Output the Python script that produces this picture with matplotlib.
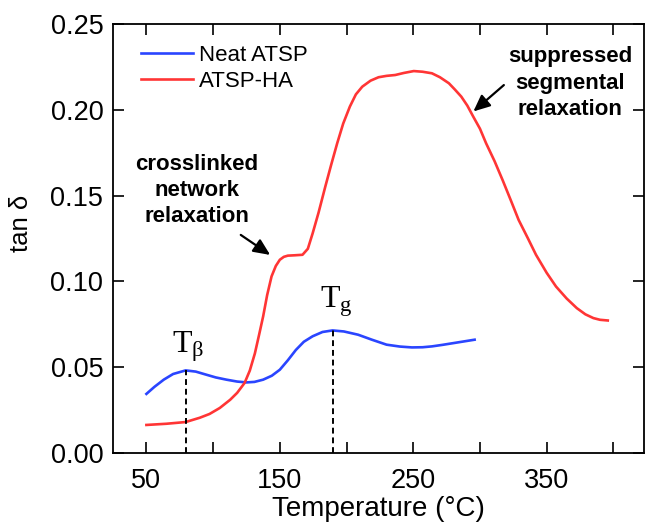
import matplotlib.pyplot as plt

plt.rcParams['font.family'] = ['Liberation Sans', 'DejaVu Sans']
plt.rcParams['mathtext.fontset'] = 'custom'
plt.rcParams['mathtext.rm'] = 'Liberation Serif'
plt.rcParams['mathtext.it'] = 'Liberation Serif'

# Neat ATSP
temp_neat = [50, 56, 63, 70, 79.4, 87, 94, 102, 110, 118, 125, 131, 137.5, 144, 150,
             156, 162, 168, 174.6, 182, 189.5, 198, 208.7, 219, 230, 240, 249, 257,
             264, 272, 280, 288, 296]
tan_neat = [0.0344, 0.0385, 0.0427, 0.0460, 0.0481, 0.0474, 0.0458, 0.0440, 0.0427,
            0.0416, 0.0411, 0.0414, 0.0427, 0.0450, 0.0485, 0.0540, 0.0600, 0.0648,
            0.0680, 0.0705, 0.0714, 0.0708, 0.0689, 0.0660, 0.0631, 0.0620, 0.0615,
            0.0616, 0.0621, 0.0630, 0.0640, 0.0650, 0.0660]

# ATSP-HA
temp_ha = [50, 65, 79.4, 90, 97.3, 105, 112.8, 118, 123.6, 127.5, 131.3, 134.5, 137.5,
           140.5, 143.8, 147, 150, 153, 156, 161, 167, 171, 174.6, 179, 184, 188.5,
           193, 197.5, 202.5, 207, 211.8, 218, 224, 230, 236.5, 243, 250.4, 257, 264,
           270, 276.7, 281, 286, 290.5, 295, 300, 304.6, 311, 317, 323, 329, 336, 342,
           350, 357, 365, 372.6, 379, 385, 390, 395.8]
tan_ha = [0.0163, 0.0170, 0.0180, 0.0205, 0.0227, 0.0262, 0.0310, 0.0350, 0.0408,
          0.0480, 0.0580, 0.0690, 0.0796, 0.0920, 0.1029, 0.1090, 0.1126, 0.1143,
          0.1150, 0.1152, 0.1155, 0.1190, 0.1280, 0.1400, 0.1550, 0.1680, 0.1805,
          0.1920, 0.2019, 0.2090, 0.2135, 0.2170, 0.2190, 0.2198, 0.2203, 0.2215,
          0.2226, 0.2222, 0.2213, 0.2190, 0.2155, 0.2120, 0.2077, 0.2025, 0.1960,
          0.1890, 0.1805, 0.1700, 0.1590, 0.1475, 0.1358, 0.1250, 0.1155, 0.1050,
          0.0970, 0.0900, 0.0844, 0.0808, 0.0786, 0.0776, 0.0772]

t_beta, tan_beta = 79.4, 0.0481
t_g, tan_g = 190, 0.0714

fig = plt.figure(figsize=(6.46, 5.23), dpi=100)
ax = fig.add_axes([0.175, 0.134, 0.822, 0.820])

ax.plot(temp_neat, tan_neat, color='#2a45ff', lw=1.9, label='Neat ATSP')
ax.plot(temp_ha, tan_ha, color='#ff3535', lw=1.9, label='ATSP-HA')

# transition markers
ax.plot([t_beta, t_beta], [0, tan_beta], 'k--', lw=1.4, dashes=(3, 2))
ax.plot([t_g, t_g], [0, tan_g], 'k--', lw=1.4, dashes=(3, 2))
ax.text(69, 0.0584, r'$\mathrm{T}_{\beta}$', fontsize=23, ha='left', va='baseline')
ax.text(180, 0.0845, r'$\mathrm{T}_{\mathrm{g}}$', fontsize=23, ha='left', va='baseline')

# annotations
arrow = dict(arrowstyle='-|>,head_length=1.0,head_width=0.45', color='k', lw=1.6)
ax.text(87.6, 0.153, 'crosslinked\nnetwork\nrelaxation', fontsize=16, fontweight='bold',
        ha='center', va='center', linespacing=1.33)
ax.annotate('', xy=(144.5, 0.1145), xytext=(119, 0.128), arrowprops=arrow)
ax.text(367.6, 0.2156, 'suppressed\nsegmental\nrelaxation', fontsize=16, fontweight='bold',
        ha='center', va='center', linespacing=1.33)
ax.annotate('', xy=(293.5, 0.198), xytext=(319.5, 0.2155), arrowprops=arrow)

ax.set_xlim(25, 423)
ax.set_ylim(0, 0.25)
ax.set_xticks([50, 150, 250, 350])
ax.set_xticks([100, 200, 300, 400], minor=True)
ax.set_yticks([0, 0.05, 0.10, 0.15, 0.20, 0.25])
ax.set_yticklabels(['0.00', '0.05', '0.10', '0.15', '0.20', '0.25'])
ax.tick_params(which='both', direction='in', top=True, right=True, length=8, width=1.2)
ax.tick_params(axis='x', labelsize=19.5, pad=11)
ax.tick_params(axis='y', labelsize=19.5, pad=7)
for s in ax.spines.values():
    s.set_linewidth(1.3)

ax.set_xlabel('Temperature (°C)', fontsize=20, labelpad=1)
ax.set_ylabel('tan δ', fontsize=18.5)
ax.yaxis.set_label_coords(-0.151, 0.535)

ax.legend(loc='upper left', frameon=False, fontsize=16, handlelength=2.35,
          handletextpad=0.28, labelspacing=0.2, borderpad=0, borderaxespad=0,
          bbox_to_anchor=(0.052, 0.951))

fig.savefig('out.png', dpi=100)
